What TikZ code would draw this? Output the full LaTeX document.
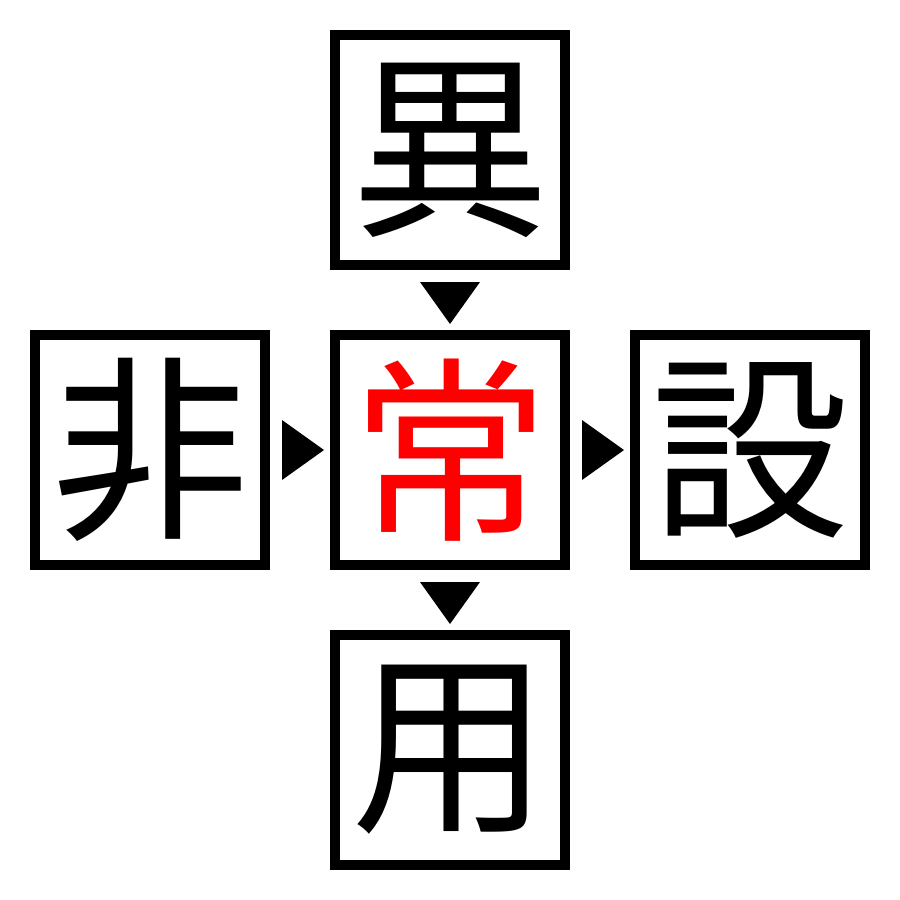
\documentclass[tikz,border=0pt]{standalone}
\usepackage{fontspec}
\newfontfamily\cjk{Noto Sans CJK JP}
\tikzset{
  charbox/.style={draw=black, line width=10pt, minimum size=230pt, inner sep=0pt, font=\cjk\fontsize{198}{198}\selectfont},
  pointer/.style={fill=black}
}
\begin{document}
\begin{tikzpicture}[x=1pt,y=-1pt]
\useasboundingbox[fill=white] (0,0) rectangle (900,900);
\node[charbox] (top) at (450,150) {異};
\node[charbox] (left) at (150,450) {非};
\node[charbox, text=red] (mid) at (450,450) {常};
\node[charbox] (right) at (750,450) {設};
\node[charbox] (bot) at (450,750) {用};
\fill[pointer] (420,282) -- (480,282) -- (450,324) -- cycle;
\fill[pointer] (282,420) -- (282,480) -- (324,450) -- cycle;
\fill[pointer] (582,420) -- (582,480) -- (624,450) -- cycle;
\fill[pointer] (420,582) -- (480,582) -- (450,624) -- cycle;
\end{tikzpicture}
\end{document}
